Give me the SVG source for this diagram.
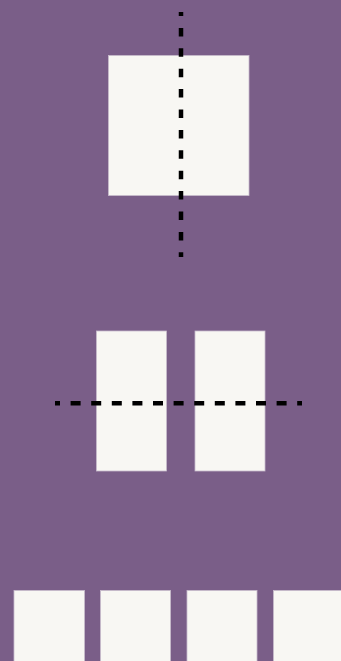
<svg xmlns="http://www.w3.org/2000/svg" width="341" height="661" viewBox="0 0 341 661">
<style>
.box{fill:#f8f7f3;stroke:#c9bccd;stroke-width:0.8}
.cut{stroke:#000;stroke-width:4.5;fill:none}
</style>
<rect width="341" height="661" fill="#7a5e88"/>
<g id="square"><rect class="box" x="108.5" y="55.5" width="140.5" height="140"/></g>
<g id="half-left"><rect class="box" x="96.5" y="331" width="70" height="140"/></g>
<g id="half-right"><rect class="box" x="195" y="331" width="70" height="140"/></g>
<g id="q1"><rect class="box" x="14" y="590.5" width="70.5" height="72"/></g>
<g id="q2"><rect class="box" x="100.5" y="590.5" width="70" height="72"/></g>
<g id="q3"><rect class="box" x="187" y="590.5" width="70" height="72"/></g>
<g id="q4"><rect class="box" x="273.5" y="590.5" width="72" height="72"/></g>
<g id="connectors">
<line class="cut" x1="181" y1="12" x2="181" y2="257" stroke-dasharray="8.5 11.9" stroke-dashoffset="4.5"/>
<line class="cut" x1="55" y1="403.3" x2="302" y2="403.3" stroke-dasharray="10 10.6" stroke-dashoffset="5"/>
</g>
</svg>
